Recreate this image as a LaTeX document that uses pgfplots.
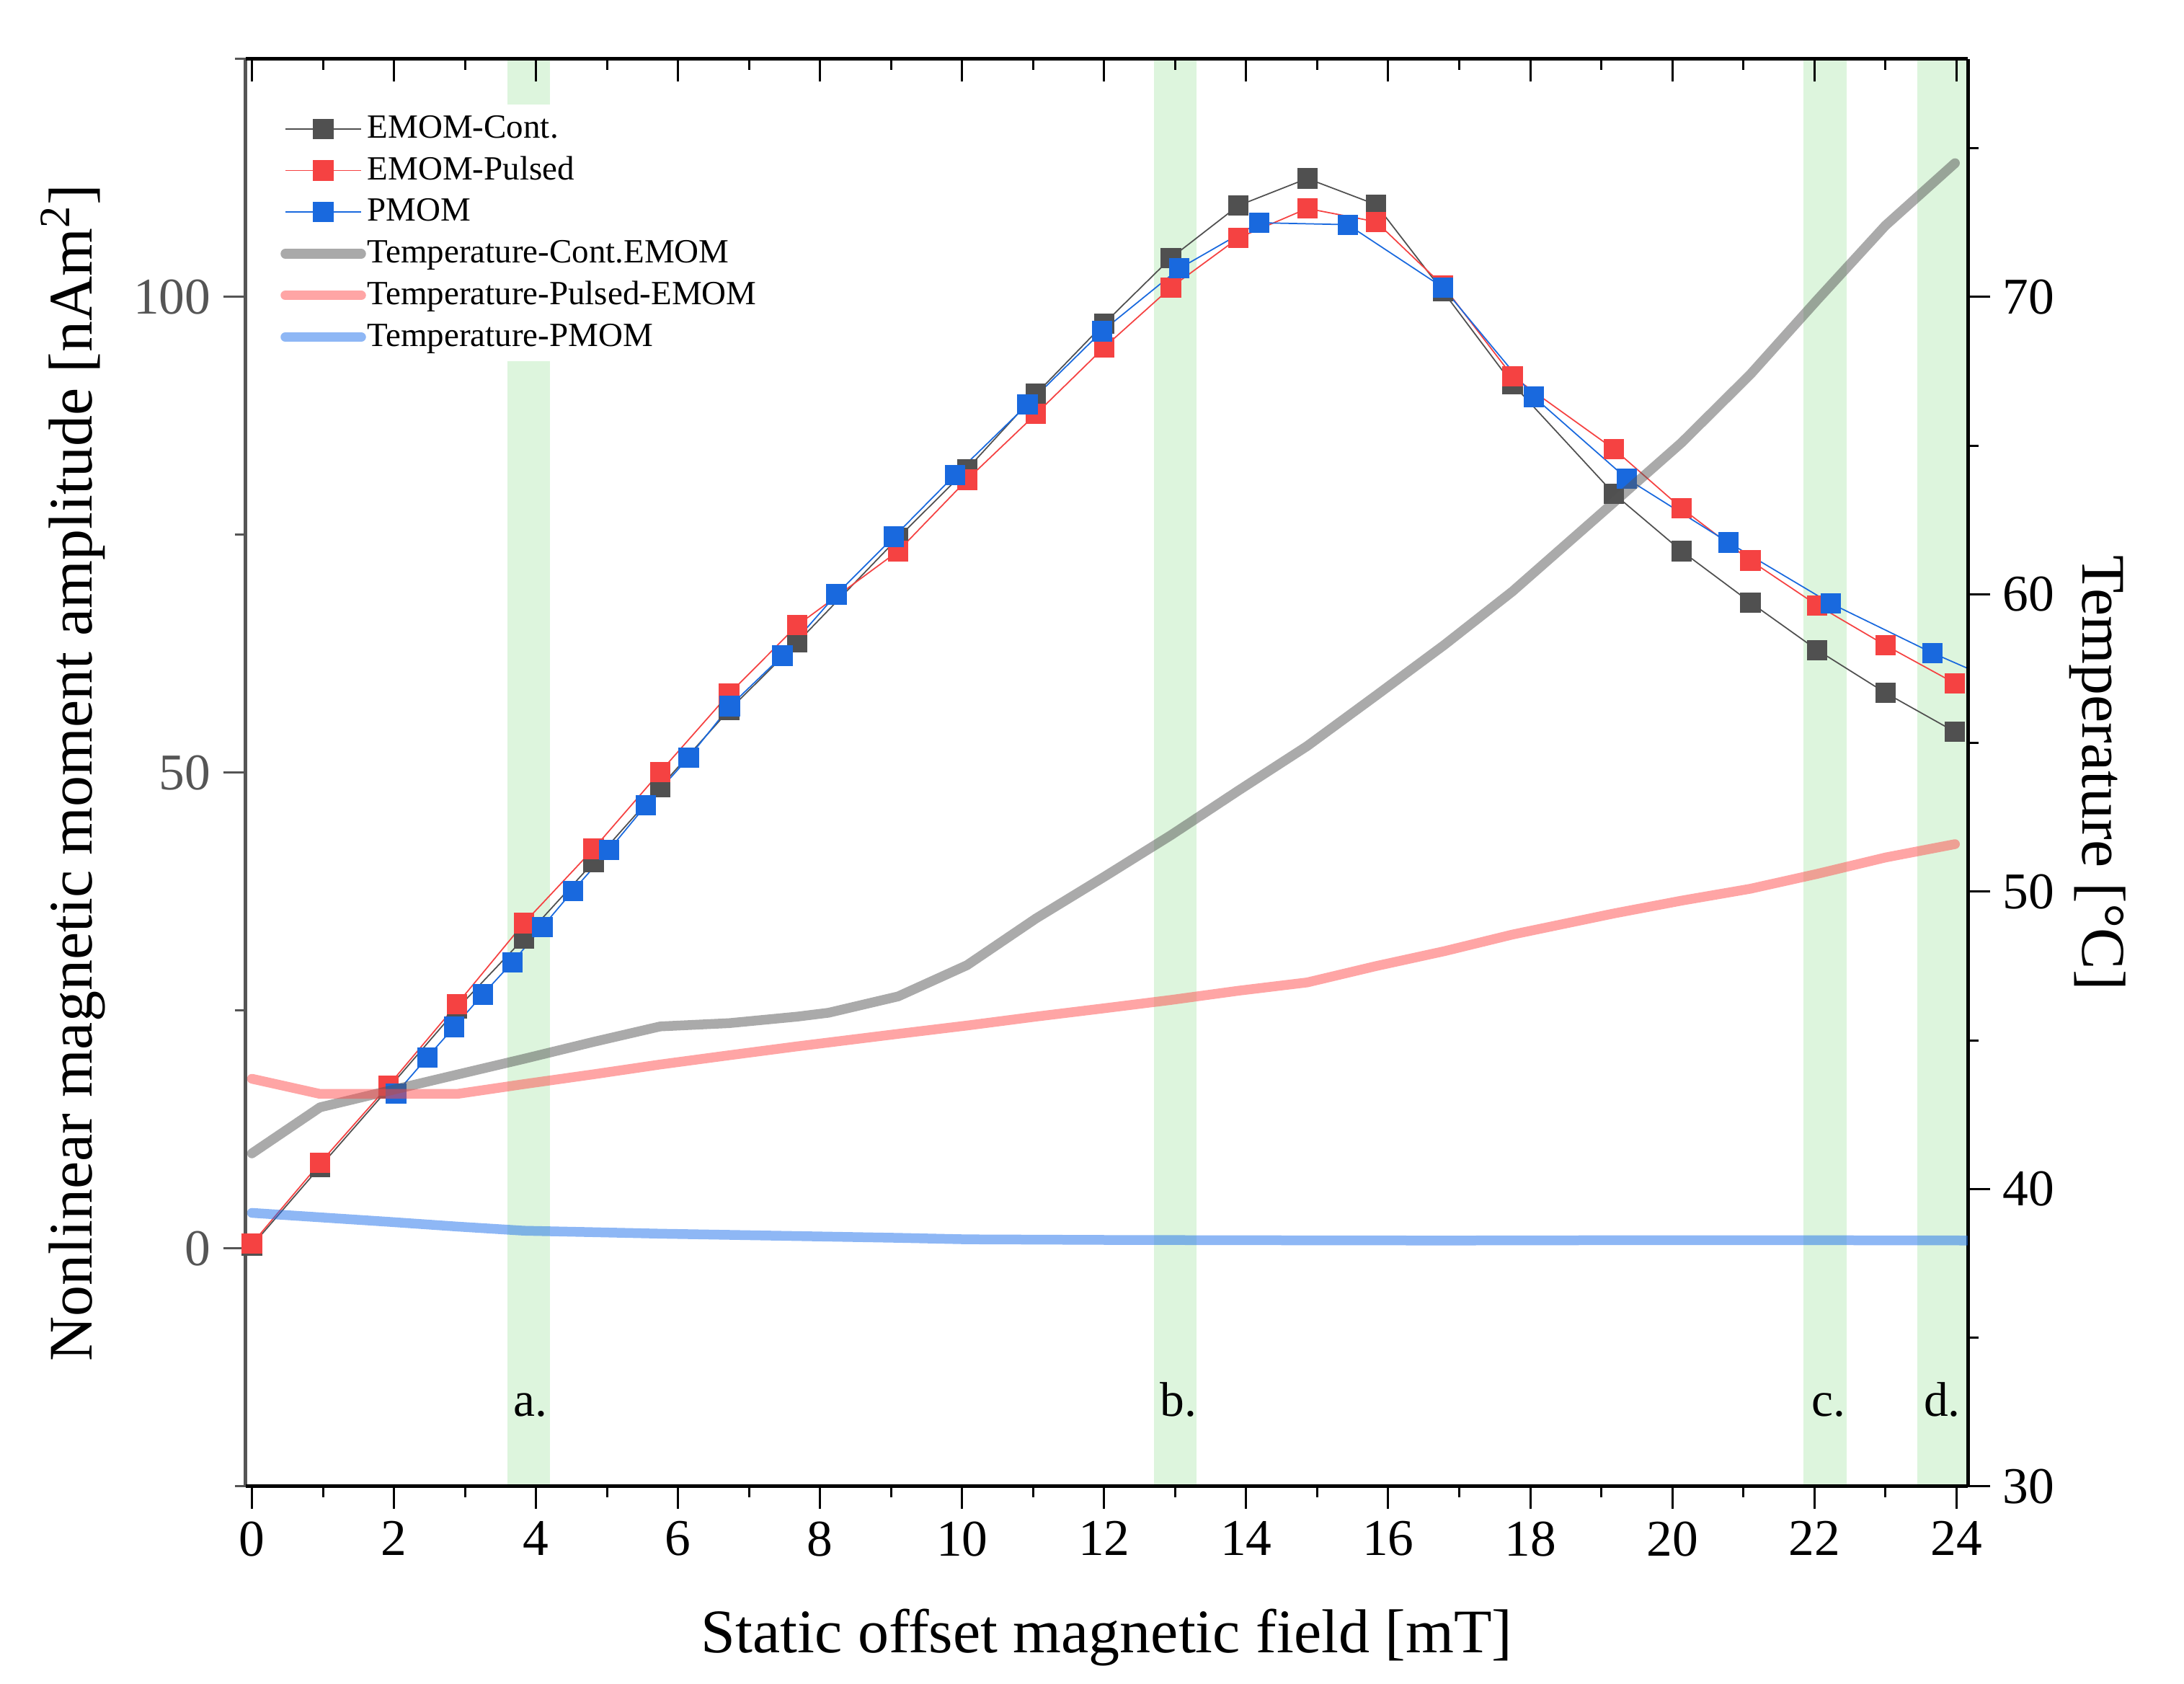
\documentclass[border=0pt]{standalone}
\usepackage{fontspec}
\setmainfont{Liberation Serif}
\usepackage{pgfplots}
\usepackage{pgfplotstable}
\pgfplotsset{compat=1.18}
\definecolor{cgray}{RGB}{80,80,80}
\definecolor{cred}{RGB}{245,66,66}
\definecolor{cblue}{RGB}{25,105,222}
\definecolor{tgray}{RGB}{85,85,85}
\definecolor{tred}{RGB}{255,76,76}
\definecolor{tblue}{RGB}{30,112,236}
\definecolor{band}{RGB}{221,245,221}
\definecolor{laxis}{RGB}{85,85,85}

\pgfplotstableread{
x y
0 0.3
0.96 8.6
1.92 16.8
2.89 25.2
3.83 32.6
4.81 40.6
5.75 48.5
6.72 56.6
7.68 63.7
9.10 74.7
10.07 81.9
11.04 89.8
12.00 97.2
12.94 104.1
13.89 109.6
14.86 112.45
15.83 109.7
16.77 100.6
17.75 90.86
19.18 79.3
20.13 73.3
21.10 67.9
22.04 62.9
23.00 58.4
23.98 54.3
}\emomcont

\pgfplotstableread{
x y
0 0.5
0.96 9.0
1.92 17.1
2.89 25.7
3.83 34.2
4.81 42.0
5.75 50.1
6.72 58.3
7.68 65.5
9.10 73.3
10.07 80.8
11.04 87.7
12.00 94.7
12.94 101.0
13.89 106.2
14.86 109.3
15.83 107.9
16.77 101.2
17.75 91.65
19.18 84.0
20.13 77.8
21.10 72.3
22.04 67.6
23.00 63.4
23.98 59.4
}\emompulsed

\pgfplotstableread{
x y
2.03 16.3
2.47 20.1
2.85 23.3
3.25 26.7
3.67 30.1
4.09 33.8
4.52 37.6
5.03 41.9
5.55 46.6
6.15 51.6
6.73 57.0
7.47 62.3
8.23 68.75
9.04 74.8
9.90 81.3
10.92 88.7
11.97 96.4
13.06 103.0
14.18 107.8
15.43 107.6
16.77 101.0
18.05 89.5
19.36 80.9
20.79 74.2
22.23 67.8
23.66 62.6
25.10 57.9
}\pmom

\pgfplotstableread{
x y
0 41.2
0.96 42.75
1.92 43.3
2.89 43.85
3.83 44.38
4.81 44.95
5.75 45.47
6.72 45.58
7.68 45.8
8.12 45.93
9.10 46.48
10.07 47.53
11.04 49.1
12.00 50.5
12.94 51.9
13.89 53.4
14.86 54.9
15.83 56.6
16.79 58.3
17.75 60.1
19.18 63.1
20.13 65.1
21.10 67.4
22.04 69.9
23.00 72.4
23.98 74.5
}\tcont

\pgfplotstableread{
x y
0 43.71
0.96 43.2
1.92 43.2
2.89 43.2
3.83 43.53
4.81 43.86
5.75 44.19
6.72 44.5
7.68 44.8
9.10 45.22
10.07 45.5
11.04 45.8
12.00 46.08
12.94 46.36
13.89 46.67
14.86 46.95
15.83 47.5
16.79 48.0
17.75 48.56
19.18 49.27
20.13 49.7
21.10 50.1
22.04 50.6
23.00 51.15
23.98 51.6
}\tpulsed

\pgfplotstableread{
x y
0 39.2
0.96 39.05
1.92 38.9
2.89 38.74
3.83 38.6
4.81 38.55
5.75 38.5
6.72 38.46
7.68 38.42
9.10 38.36
10.07 38.31
11.04 38.3
12.00 38.29
13.89 38.28
16.79 38.27
19.18 38.28
22.04 38.28
24.50 38.27
}\tpmom

\begin{document}
\begin{tikzpicture}
\pgfplotsset{
  common/.style={
    width=477.8pt, height=396pt, scale only axis,
    xmin=-0.086, xmax=24.16,
    /pgf/number format/assume math mode=true,
    major tick length=6.2pt, minor tick length=3pt,
    axis line style={line width=1pt},
    ticklabel style={font=\fontsize{14.3}{17}\selectfont},
  },
  mom/.style={line width=0.35pt, mark=square*, mark size=2.65pt, mark options={solid}},
  temp/.style={line width=2.7pt, opacity=0.5, line cap=round, line join=round},
}
\path (-68.2pt,-54.8pt) rectangle (537.8pt,412.4pt);

% ---------- moment axis (left) ----------
\begin{axis}[common,
  ymin=-25, ymax=125,
  axis x line=none, axis y line*=left,
  y axis line style={laxis, line width=1pt, -},
  xtick=\empty,
  ytick={0,50,100}, minor ytick={-25,25,75,125},
  tick align=outside,
  tick style={laxis, line width=0.6pt},
  yticklabel style={text=laxis},
  every axis y label/.style={at={(axis description cs:-0.0892,0.5)}, anchor=base, rotate=90,
    font=\fontsize{17.2}{21}\selectfont},
  ylabel={Nonlinear magnetic moment amplitude [nAm\textsuperscript{2}]},
]
\addplot[draw=none, fill=band] coordinates {(3.6,-25) (3.6,125) (4.2,125) (4.2,-25)} -- cycle;
\addplot[draw=none, fill=band] coordinates {(12.7,-25) (12.7,125) (13.3,125) (13.3,-25)} -- cycle;
\addplot[draw=none, fill=band] coordinates {(21.85,-25) (21.85,125) (22.45,125) (22.45,-25)} -- cycle;
\addplot[draw=none, fill=band] coordinates {(23.45,-25) (23.45,125) (24.3,125) (24.3,-25)} -- cycle;

\addplot[mom, cgray, mark options={fill=cgray, draw=cgray}] table {\emomcont};
\addplot[mom, cred, mark options={fill=cred, draw=cred}] table {\emompulsed};
\addplot[mom, cblue, mark options={fill=cblue, draw=cblue}] table {\pmom};

\node[font=\fontsize{13.5}{15}\selectfont, anchor=base] at (axis cs:3.92,-17.6) {a.};
\node[font=\fontsize{13.5}{15}\selectfont, anchor=base] at (axis cs:13.05,-17.6) {b.};
\node[font=\fontsize{13.5}{15}\selectfont, anchor=base] at (axis cs:22.2,-17.6) {c.};
\node[font=\fontsize{13.5}{15}\selectfont, anchor=base] at (axis cs:23.8,-17.6) {d.};
\end{axis}

% ---------- temperature axis (right) + bottom x axis ----------
\begin{axis}[common,
  ymin=30, ymax=78,
  axis x line*=bottom, axis y line*=right,
  x axis line style={black, line width=1pt, -},
  y axis line style={black, line width=1pt, -},
  tick align=outside,
  tick style={black, line width=0.6pt},
  xtick={0,2,...,24}, minor x tick num=1,
  ytick={30,40,50,60,70}, minor ytick={35,45,55,65,75},
  every axis x label/.style={at={(axis description cs:0.5,-0.1162)}, anchor=base,
    font=\fontsize{17.2}{21}\selectfont},
  every axis y label/.style={at={(axis description cs:1.0666,0.5)}, anchor=base, rotate=-90,
    font=\fontsize{17.2}{21}\selectfont},
  xlabel={Static offset magnetic field [mT]},
  ylabel={Temperature [°C]},
  legend cell align=left,
  legend image code/.code={\draw[mark repeat=2,mark phase=2,#1] plot coordinates {(0pt,0pt) (10.5pt,0pt) (21pt,0pt)};},
  legend style={at={(axis description cs:0.0135,0.9688)}, anchor=north west,
    draw=none, fill=white, font=\fontsize{9.4}{11}\selectfont,
    inner xsep=3pt, inner ysep=1.8pt, row sep=1.55pt,
    nodes={inner sep=0pt, text height=7.5pt, text depth=2.5pt},
    /tikz/every even column/.append style={column sep=0pt},
    /tikz/every odd column/.append style={column sep=0.4pt}},
]
\addlegendimage{mom, cgray, mark options={fill=cgray, draw=cgray}}
\addlegendentry{EMOM-Cont.}
\addlegendimage{mom, cred, mark options={fill=cred, draw=cred}}
\addlegendentry{EMOM-Pulsed}
\addlegendimage{mom, cblue, mark options={fill=cblue, draw=cblue}}
\addlegendentry{PMOM}
\addplot[temp, tgray] table {\tcont};
\addlegendentry{Temperature-Cont.EMOM}
\addplot[temp, tred] table {\tpulsed};
\addlegendentry{Temperature-Pulsed-EMOM}
\addplot[temp, tblue] table {\tpmom};
\addlegendentry{Temperature-PMOM}
\end{axis}

% ---------- top x axis (ticks inside) ----------
\begin{axis}[common,
  ymin=0, ymax=1,
  axis x line*=top, axis y line=none,
  x axis line style={black, line width=1pt, -},
  tick align=inside,
  tick style={black, line width=0.6pt},
  xtick={0,2,...,24}, minor x tick num=1, xticklabels={},
  ytick=\empty,
]
\end{axis}
\end{tikzpicture}
\end{document}
